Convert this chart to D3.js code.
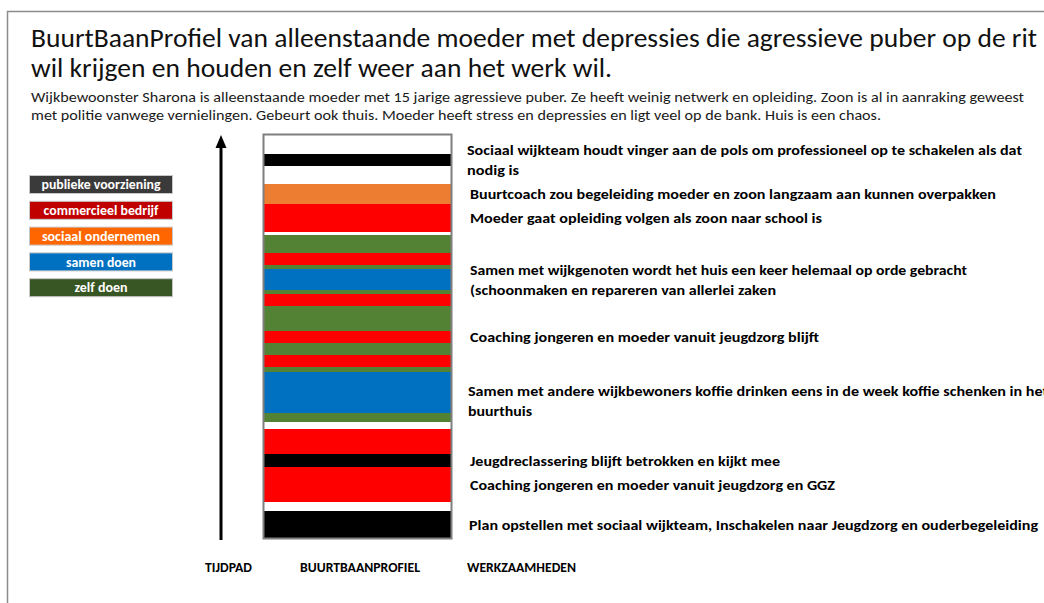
<!DOCTYPE html>
<html lang="nl">
<head>
    <meta charset="UTF-8">
    <script src="https://d3js.org/d3.v7.min.js"></script>
    <title>BuurtBaanProfiel</title>
    <style>
        html, body { margin: 0; padding: 0; background: #fff; }
        svg { display: block; }
        text { font-family: Carlito, Lato, "Open Sans", sans-serif; }
    </style>
</head>
<body>
    <div class="fig"></div>
    <script>
        // ---------------- data ----------------
        const titleLines = [
            "BuurtBaanProfiel van alleenstaande moeder met depressies die agressieve puber op de rit",
            "wil krijgen en houden en zelf weer aan het werk wil."
        ];
        const introLines = [
            "Wijkbewoonster Sharona is alleenstaande moeder met 15 jarige agressieve puber. Ze heeft weinig netwerk en opleiding. Zoon is al in aanraking geweest",
            "met politie vanwege vernielingen. Gebeurt ook thuis. Moeder heeft stress en depressies en ligt veel op de bank. Huis is een chaos."
        ];

        // legend categories (top to bottom)
        const legendKeys = ["publiek", "commercieel", "sociaal", "samen", "zelf"];
        const legendLabels = ["publieke voorziening", "commercieel bedrijf", "sociaal ondernemen", "samen doen", "zelf doen"];

        // profile segments, from the bottom (start) to the top (now)
        const segCategories = [
            "publiek", "leeg", "commercieel", "publiek", "commercieel", "leeg", "zelf", "samen",
            "zelf", "commercieel", "zelf", "commercieel", "zelf", "commercieel", "zelf", "samen",
            "zelf", "commercieel", "zelf", "leeg", "commercieel", "sociaal", "leeg", "publiek", "leeg"
        ];
        const segHeights = [
            27, 9, 35, 13, 25, 7, 9, 41,
            5, 12, 12, 12, 25, 12, 4, 21,
            4, 12, 18, 3, 28, 20, 18, 12, 19
        ];

        // activities, anchored to a range of segments [from, to]
        const activityRanges = [
            [0, 0], [2, 2], [3, 3], [5, 7], [11, 11], [15, 15], [20, 20], [21, 21], [22, 24]
        ];
        const activityTexts = [
            ["Plan opstellen met sociaal wijkteam, Inschakelen naar Jeugdzorg en ouderbegeleiding"],
            ["Coaching jongeren en moeder vanuit jeugdzorg en GGZ"],
            ["Jeugdreclassering blijft betrokken en kijkt mee"],
            ["Samen met andere wijkbewoners koffie drinken eens in de week koffie schenken in het", "buurthuis"],
            ["Coaching jongeren en moeder vanuit jeugdzorg blijft"],
            ["Samen met wijkgenoten wordt het huis een keer helemaal op orde gebracht", "(schoonmaken en repareren van allerlei zaken"],
            ["Moeder gaat opleiding volgen als zoon naar school is"],
            ["Buurtcoach zou begeleiding moeder en zoon langzaam aan kunnen overpakken"],
            ["Sociaal wijkteam houdt vinger aan de pols om professioneel op te schakelen als dat", "nodig is"]
        ];

        const axisLabels = ["TIJDPAD", "BUURTBAANPROFIEL", "WERKZAAMHEDEN"];

        // ---------------- layout ----------------
        const width = 1044, height = 603;
        const barColor = d3.scaleOrdinal()
            .domain(["publiek", "commercieel", "sociaal", "samen", "zelf", "leeg"])
            .range(["#000000", "#FF0000", "#ED7D31", "#0070C0", "#548235", "#FFFFFF"]);
        const legendColor = d3.scaleOrdinal()
            .domain(legendKeys)
            .range(["#3A3A3A", "#C00000", "#FF6600", "#0070C0", "#375623"]);

        const svg = d3.select(".fig").append("svg")
            .attr("width", width)
            .attr("height", height);

        // fit a text element to a given width (font here is not Calibri)
        const fit = (sel, w) => { if (w) sel.attr("textLength", w).attr("lengthAdjust", "spacingAndGlyphs"); return sel; };

        // frame
        svg.append("path")
            .attr("d", `M7.5,${height} V11.5 H${width}`)
            .attr("fill", "none")
            .attr("stroke", "#8C8C8C")
            .attr("stroke-width", 1.5);

        // title + intro
        const titleWidths = [1006, 581];
        titleLines.forEach((t, i) => {
            svg.append("text")
                .attr("x", 31).attr("y", 47 + i * 30)
                .attr("font-size", 26.5)
                .attr("fill", "#111")
                .text(t)
                .call(fit, titleWidths[i]);
        });
        const introWidths = [993, 850];
        introLines.forEach((t, i) => {
            svg.append("text")
                .attr("x", 31).attr("y", 102 + i * 18)
                .attr("font-size", 15)
                .attr("fill", "#1a1a1a")
                .text(t)
                .call(fit, introWidths[i]);
        });

        // legend
        const legendY = d3.scaleBand().domain(legendKeys).range([175, 296.2]).paddingInner(0.302);
        const lg = svg.append("g").selectAll("g").data(legendKeys).enter().append("g");
        lg.append("rect")
            .attr("x", 29.5).attr("y", d => legendY(d) + 0.5)
            .attr("width", 143).attr("height", legendY.bandwidth())
            .attr("fill", d => legendColor(d))
            .attr("stroke", "#C8C8C8").attr("stroke-width", 1);
        const legendW = [119, 115, 118, 70, 53];
        lg.append("text")
            .attr("x", 101).attr("y", d => legendY(d) + legendY.bandwidth() / 2 + 0.5)
            .attr("dy", "0.35em")
            .attr("text-anchor", "middle")
            .attr("font-size", 13.5).attr("font-weight", "bold")
            .attr("fill", "#fff")
            .text((d, i) => legendLabels[i])
            .each(function (d, i) { d3.select(this).call(fit, legendW[i]); });

        // stacked profile bar
        const cum = d3.cumsum(segHeights);
        const starts = segHeights.map((h, i) => cum[i] - h);
        const y = d3.scaleLinear().domain([0, d3.sum(segHeights)]).range([538, 135]);
        const barX = 264, barW = 187;

        svg.append("g").selectAll("rect")
            .data(segCategories)
            .enter().append("rect")
            .attr("x", barX)
            .attr("y", (d, i) => y(starts[i] + segHeights[i]))
            .attr("width", barW)
            .attr("height", (d, i) => y(starts[i]) - y(starts[i] + segHeights[i]))
            .attr("fill", d => barColor(d));

        svg.append("rect")
            .attr("x", barX - 0.5).attr("y", y.range()[1] - 0.5)
            .attr("width", barW + 1).attr("height", y.range()[0] - y.range()[1] + 1)
            .attr("fill", "none")
            .attr("stroke", "#7F7F7F").attr("stroke-width", 2);

        // time arrow
        svg.append("line")
            .attr("x1", 221).attr("x2", 221)
            .attr("y1", 540).attr("y2", 146)
            .attr("stroke", "#000").attr("stroke-width", 3);
        svg.append("path")
            .attr("d", "M221,135 L215.5,148 L226.5,148 Z")
            .attr("fill", "#000");

        // activities
        const activityWidths = [
            [569], [365], [310], [580, 64], [349], [497, 306], [352], [526], [555, 52]
        ];
        const activityX = [469, 470, 470, 468, 470, 470, 470, 470, 467];
        activityTexts.forEach((lines, i) => {
            const [a, b] = activityRanges[i];
            const mid = (y(starts[a]) + y(starts[b] + segHeights[b])) / 2;
            lines.forEach((t, j) => {
                svg.append("text")
                    .attr("x", activityX[i])
                    .attr("y", mid + (j - (lines.length - 1) / 2) * 20)
                    .attr("dy", "0.35em")
                    .attr("font-size", 14.5).attr("font-weight", "bold")
                    .attr("fill", "#000")
                    .text(t)
                    .call(fit, activityWidths[i][j]);
            });
        });

        // column captions
        const captionX = [205, 300, 467];
        const captionW = [47, 120, 109];
        axisLabels.forEach((t, i) => {
            svg.append("text")
                .attr("x", captionX[i]).attr("y", 572)
                .attr("font-size", 13).attr("font-weight", "bold")
                .attr("fill", "#000")
                .text(t)
                .call(fit, captionW[i]);
        });
    </script>
</body>
</html>
